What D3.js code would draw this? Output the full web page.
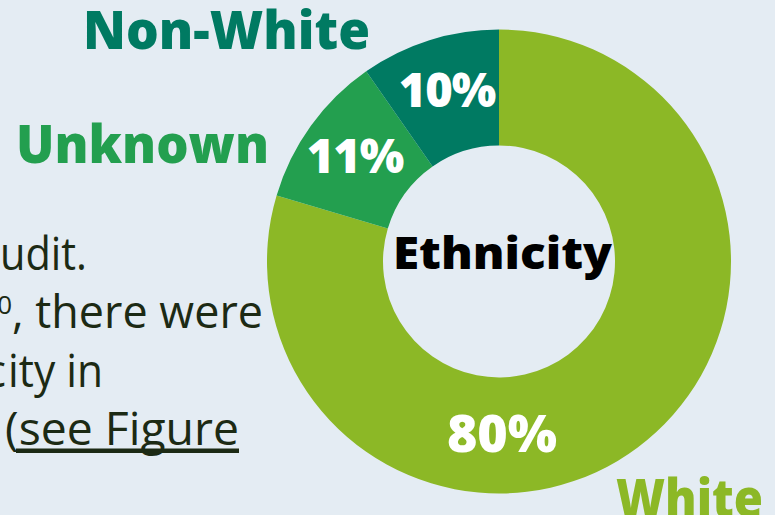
<!DOCTYPE html>
<html>
<head>
<meta charset="utf-8">
<script src="https://cdn.jsdelivr.net/npm/d3@7"></script>
<style>
  html, body { margin: 0; padding: 0; background: #e4ecf3; overflow: hidden; }
  svg { display: block; }
</style>
</head>
<body>
<div id="chart"></div>
<script>
// ---- data ----
const categories = ["White", "Unknown", "Non-White"];
const shares = [79.6, 10.7, 9.7];           // estimated slice shares (%)
const colors = ["#8cb826", "#239f4f", "#007a62"];
const centerTitle = "Ethnicity";
const bodyLines = ["the audit.", ", there were", "ethnicity in", "(see Figure"];

const W = 775, H = 515;
const svg = d3.select("#chart").append("svg").attr("width", W).attr("height", H);
svg.append("rect").attr("width", W).attr("height", H).attr("fill", "#e4ecf3");

const FONT = "'Open Sans', 'Liberation Sans', sans-serif";
const data = categories.map((c, i) => ({ name: c, value: shares[i], color: colors[i] }));

// ---- donut ----
const cx = 499, cy = 261.5, R = 232, r = 116;
const pie = d3.pie().value(d => d.value).sort(null);
const arc = d3.arc().innerRadius(r).outerRadius(R);
const g = svg.append("g").attr("transform", `translate(${cx},${cy})`);
const arcs = pie(data);
g.selectAll("path.slice").data(arcs).enter().append("path")
  .attr("class", "slice")
  .attr("d", arc)
  .attr("fill", d => d.data.color);

// percent labels
const isBig = d => (d.endAngle - d.startAngle) > Math.PI;
const labelPos = d => {
  const a = isBig(d) ? Math.PI : (d.startAngle + d.endAngle) / 2;
  const rr = isBig(d) ? 172 : 180;
  return [rr * Math.sin(a), -rr * Math.cos(a)];
};
g.selectAll("text.pct").data(arcs).enter().append("text")
  .attr("class", "pct")
  .attr("x", d => labelPos(d)[0] + (isBig(d) ? 3 : 2))
  .attr("y", d => labelPos(d)[1])
  .attr("dy", "0.36em")
  .attr("text-anchor", "middle")
  .attr("font-family", FONT)
  .attr("font-weight", 800)
  .attr("font-size", d => isBig(d) ? 52 : 47)
  .attr("letter-spacing", d => isBig(d) ? 0 : -1)
  .attr("fill", "#ffffff")
  .text(d => Math.round(d.value) + "%");

// center title
svg.append("text")
  .attr("x", 393).attr("y", 269)
  .attr("font-family", FONT).attr("font-weight", 800).attr("font-size", 44)
  .attr("textLength", 219).attr("lengthAdjust", "spacingAndGlyphs")
  .attr("fill", "#000000")
  .text(centerTitle);

// category labels
const catLabel = [
  { name: "Non-White", x: 83, y: 49, w: 287 },
  { name: "Unknown", x: 16, y: 163, w: 253 },
  { name: "White", x: 616, y: 517, w: 147 }
];
catLabel.forEach(l => {
  const d = data.find(e => e.name === l.name);
  svg.append("text")
    .attr("x", l.x).attr("y", l.y)
    .attr("font-family", FONT).attr("font-weight", 800).attr("font-size", 53)
    .attr("textLength", l.w).attr("lengthAdjust", "spacingAndGlyphs")
    .attr("fill", d.color)
    .text(l.name);
});

// body text (clipped on the left)
const bodyColor = "#1c2a14";
const bodyFont = 45;
function bodyText(x, y, txt, w, anchor) {
  const t = svg.append("text").attr("x", x).attr("y", y)
    .attr("font-family", FONT).attr("font-size", bodyFont)
    .attr("fill", bodyColor).text(txt);
  if (w) t.attr("textLength", w).attr("lengthAdjust", "spacingAndGlyphs");
  if (anchor) t.attr("text-anchor", anchor);
  return t;
}
// line 1
bodyText(-2, 270, "the a", null, "end");
bodyText(0, 270, "udit.", 87);
// line 2
svg.append("text").attr("x", 12).attr("y", 314).attr("text-anchor", "end")
  .attr("font-family", FONT).attr("font-size", 26).attr("fill", bodyColor).text("10");
bodyText(12, 328, ", there were", 251);
// line 3
bodyText(6, 387, "ethnic", null, "end");
bodyText(8, 387, "ity in", 95);
// line 4
bodyText(5, 445, "(see Figure", 234);
svg.append("rect").attr("x", 16).attr("y", 448.5).attr("width", 223).attr("height", 4.5)
  .attr("fill", bodyColor);
</script>
</body>
</html>
